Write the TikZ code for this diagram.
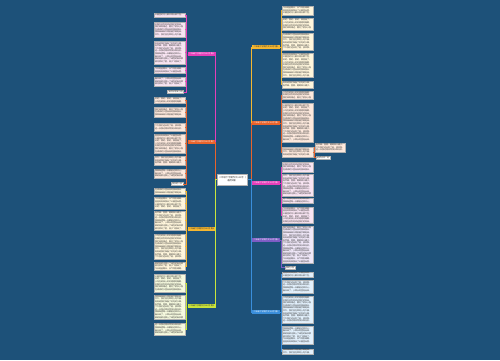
\documentclass[tikz,border=0pt]{standalone}
\usepackage{fontspec}
\newfontfamily\cjk{Noto Sans CJK SC}
\XeTeXlinebreaklocale "zh"

\definecolor{bgblue}{RGB}{29,81,121}
\definecolor{cGold}{HTML}{F5B730}
\definecolor{cOrange}{HTML}{E8632B}
\definecolor{cMagenta}{HTML}{E53FB9}
\definecolor{cPurple}{HTML}{7E5CC4}
\definecolor{cBlue}{HTML}{3A8EDB}
\definecolor{cLime}{HTML}{C9E43C}
\definecolor{fGold}{HTML}{FFF6DC}
\definecolor{fOrange}{HTML}{FDE9DD}
\definecolor{fMagenta}{HTML}{F8E4F2}
\definecolor{fPurple}{HTML}{EFE7F8}
\definecolor{fBlue}{HTML}{E2F0FC}
\definecolor{fLime}{HTML}{F6FADF}
\definecolor{txtD}{HTML}{333333}

% lines of the essay text, 14 characters each
\newcommand\essline[1]{\ifcase#1\or
今天是星期天，天气特别晴朗。\or
爸爸妈妈带我去了公园里玩耍。\or
公园里的花儿都开得五颜六色，\or
红的、黄的、紫的，美丽极了。\or
小鸟在树枝上叽叽喳喳地唱歌，\or
好像在热烈地欢迎我们的到来。\or
我们来到湖边，看见了很多小鱼\or
在清清的水里自由地游来游去，\or
我和妹妹高兴得拍着手跳起来。\or
中午，我们坐在草地上吃午餐，\or
妈妈给我们准备了好吃的水果，\or
有苹果、香蕉、葡萄和大橘子。\or
下午我们还去划了船，放风筝。\or
这一天我过得非常快乐和充实。\or
我真希望每一天都能这样开心。\or
春天来了，小草从地里钻出来，\or
柳树姑娘也换上了绿色的新衣裳\or
桃花笑红了脸，燕子飞回来了。\fi}
\newcount\esscnt
\newcount\essidx
% \essay{first line}{number of lines}
\newcommand\essay[2]{\esscnt=0 \essidx=#1\relax
  \loop\essline{\essidx}\advance\esscnt by 1
    \advance\essidx by 1 \ifnum\essidx>18 \essidx=1 \fi
  \ifnum\esscnt<#2 \par\repeat}

\begin{document}
\begin{tikzpicture}[x=1pt,y=-1pt,
    leaf/.style={draw=black!30,line width=0.25pt,rectangle,inner xsep=1pt,inner ysep=0.6pt,
      text width=29pt,align=left,text=txtD,font=\cjk\fontsize{2}{2.6}\selectfont},
    tip/.style={draw=black!30,line width=0.25pt,fill=white,inner xsep=1pt,inner ysep=0.6pt,
      text=txtD,font=\cjk\fontsize{2}{2.6}\selectfont},
    branch/.style={rectangle,inner sep=1pt,minimum height=4.5pt,minimum width=28pt,
      font=\cjk\fontsize{2}{2.4}\selectfont},
    trunk/.style={line width=0.6pt},
    twig/.style={line width=0.4pt}]
  \fill[bgblue] (0,0) rectangle (500,360);

  % centre
  \node[fill=white,draw=black!30,line width=0.25pt,inner sep=1.5pt,minimum width=29pt,
    minimum height=11pt,align=center,text=txtD,font=\cjk\fontsize{2.3}{3}\selectfont]
    (ctr) at (232.5,179.5) {二年级下学期作文300字（\\通用9篇）};

  % right branches
  \node[branch,fill=cGold,text=txtD] (pian1) at (266,47) {二年级下学期作文300字 篇1};
  \node[branch,fill=cOrange,text=white] (pian2) at (266,123) {二年级下学期作文300字 篇2};
  \node[branch,fill=cMagenta,text=white] (pian3) at (266,183) {二年级下学期作文300字 篇3};
  \node[branch,fill=cPurple,text=white] (pian4) at (266,240) {二年级下学期作文300字 篇4};
  \node[branch,fill=cBlue,text=white] (pian5) at (266,312) {二年级下学期作文300字 篇5};
  % left branches
  \node[branch,fill=cMagenta,text=white] (pian6) at (201.5,54) {二年级下学期作文300字 篇6};
  \node[branch,fill=cOrange,text=white] (pian7) at (201.5,142) {二年级下学期作文300字 篇7};
  \node[branch,fill=cGold,text=txtD] (pian8) at (201.5,229) {二年级下学期作文300字 篇8};
  \node[branch,fill=cLime,text=txtD] (pian9) at (201.5,306) {二年级下学期作文300字 篇9};

  \draw[trunk,cGold] (ctr.east) -- ++(3.5,0) |- (pian1.west);
  \draw[trunk,cOrange] (ctr.east) -- ++(3.5,0) |- (pian2.west);
  \draw[trunk,cMagenta] (ctr.east) -- ++(3.5,0) |- (pian3.west);
  \draw[trunk,cPurple] (ctr.east) -- ++(3.5,0) |- (pian4.west);
  \draw[trunk,cBlue] (ctr.east) -- ++(3.5,0) |- (pian5.west);
  \draw[trunk,cMagenta] (ctr.west) -- ++(-2,0) |- (pian6.east);
  \draw[trunk,cOrange] (ctr.west) -- ++(-2,0) |- (pian7.east);
  \draw[trunk,cGold] (ctr.west) -- ++(-2,0) |- (pian8.east);
  \draw[trunk,cLime] (ctr.west) -- ++(-2,0) |- (pian9.east);

  % leaves of 篇1
  \node[leaf,fill=fGold,minimum height=9pt] (p1a) at (297.5,10.5) {\essay{1}{3}};
  \node[leaf,fill=fGold,minimum height=12pt] (p1b) at (297.5,24) {\essay{4}{4}};
  \node[leaf,fill=fGold,minimum height=17pt] (p1c) at (297.5,41.5) {\essay{8}{6}};
  \node[leaf,fill=fGold,minimum height=24pt] (p1d) at (297.5,65) {\essay{2}{9}};
  \node[leaf,fill=fGold,minimum height=7pt] (p1e) at (297.5,84.5) {\essay{11}{2}};
  % leaves of 篇2
  \node[leaf,fill=fOrange,minimum height=8pt] (p2a) at (297.5,95) {\essay{5}{3}};
  \node[leaf,fill=fOrange,minimum height=39pt] (p2b) at (297.5,122.5) {\essay{3}{14}};
  \node[leaf,fill=fOrange,minimum height=10pt] (p2c) at (297.5,152) {\essay{9}{3}};
  \node[leaf,fill=fOrange,minimum height=9pt,text width=28pt] (p2d) at (330,147.5) {\essay{12}{3}};
  \node[tip] (p2e) at (323,157.5) {老师点评：好};
  % leaves of 篇3
  \node[leaf,fill=fMagenta,minimum height=10pt] (p3a) at (297.5,167) {\essay{6}{3}};
  \node[leaf,fill=fMagenta,minimum height=22pt] (p3b) at (297.5,185) {\essay{10}{8}};
  \node[leaf,fill=fMagenta,minimum height=5pt] (p3c) at (297.5,200.5) {\essay{14}{2}};
  \node[leaf,fill=fMagenta,minimum height=16pt] (p3d) at (297.5,215) {\essay{1}{6}};
  % leaves of 篇4
  \node[leaf,fill=fPurple,minimum height=37pt] (p4a) at (297.5,244.5) {\essay{7}{14}};
  \node[tip] (p4b) at (290,267.5) {我的小狗};
  % leaves of 篇5
  \node[leaf,fill=fBlue,minimum height=5pt] (p5a) at (297.5,274.5) {\essay{2}{2}};
  \node[leaf,fill=fBlue,minimum height=13pt] (p5b) at (297.5,286.5) {\essay{13}{4}};
  \node[leaf,fill=fBlue,minimum height=27pt] (p5c) at (297.5,309.5) {\essay{5}{10}};
  \node[leaf,fill=fBlue,minimum height=18pt] (p5d) at (297.5,335) {\essay{15}{6}};
  \node[leaf,fill=fBlue,minimum height=5pt] (p5e) at (297.5,351.5) {\essay{9}{2}};

  % leaves of 篇6
  \node[leaf,fill=fMagenta,minimum height=4pt] (p6a) at (169.5,15) {\essay{3}{1}};
  \node[leaf,fill=fMagenta,minimum height=15pt] (p6b) at (169.5,29.5) {\essay{6}{5}};
  \node[leaf,fill=fMagenta,minimum height=23pt] (p6c) at (169.5,52.5) {\essay{11}{8}};
  \node[leaf,fill=fMagenta,minimum height=6pt] (p6d) at (169.5,70) {\essay{1}{2}};
  \node[leaf,fill=fMagenta,minimum height=9pt] (p6e) at (169.5,81.5) {\essay{16}{3}};
  \node[tip] (p6f) at (175.5,92) {我的好朋友小明};
  % leaves of 篇7
  \node[leaf,fill=fOrange,minimum height=6pt] (p7a) at (169.5,100) {\essay{4}{2}};
  \node[leaf,fill=fOrange,minimum height=10pt] (p7b) at (169.5,112) {\essay{7}{3}};
  \node[leaf,fill=fOrange,minimum height=8pt] (p7c) at (169.5,127) {\essay{13}{2}};
  \node[leaf,fill=fOrange,minimum height=19pt] (p7d) at (169.5,143.5) {\essay{2}{7}};
  \node[leaf,fill=fOrange,minimum height=9pt] (p7e) at (169.5,160.5) {\essay{10}{3}};
  \node[leaf,fill=fOrange,minimum height=9pt] (p7f) at (169.5,173.5) {\essay{15}{3}};
  \node[tip] (p7g) at (177,184) {快乐的一天};
  % leaves of 篇8
  \node[leaf,fill=fGold,minimum height=5.8pt] (p8a) at (169.5,191.5) {\essay{8}{2}};
  \node[leaf,fill=fGold,minimum height=12pt] (p8b) at (169.5,203) {\essay{1}{4}};
  \node[leaf,fill=fGold,minimum height=19pt] (p8c) at (169.5,220.5) {\essay{12}{7}};
  \node[leaf,fill=fGold,minimum height=25pt] (p8d) at (169.5,246.5) {\essay{5}{9}};
  \node[leaf,fill=fGold,minimum height=8pt] (p8e) at (169.5,266) {\essay{17}{3}};
  % leaves of 篇9
  \node[leaf,fill=fLime,minimum height=18pt] (p9a) at (169.5,283) {\essay{3}{6}};
  \node[leaf,fill=fLime,minimum height=24pt] (p9b) at (169.5,307) {\essay{9}{9}};
  \node[leaf,fill=fLime,minimum height=12pt] (p9c) at (169.5,329) {\essay{14}{4}};

  % connectors to the leaves
  \foreach \l in {p1a,p1b,p1c,p1d,p1e}
    \draw[twig,cGold] (pian1.east) -- ++(1,0) |- (\l.west);
  \foreach \l in {p2a,p2b,p2c}
    \draw[twig,cOrange] (pian2.east) -- ++(1,0) |- (\l.west);
  \foreach \l in {p2d,p2e}
    \draw[twig,cOrange] (p2c.east) -- ++(0.8,0) |- (\l.west);
  \foreach \l in {p3a,p3b,p3c,p3d}
    \draw[twig,cMagenta] (pian3.east) -- ++(1,0) |- (\l.west);
  \foreach \l in {p4a,p4b}
    \draw[twig,cPurple] (pian4.east) -- ++(1,0) |- (\l.west);
  \foreach \l in {p5a,p5b,p5c,p5d,p5e}
    \draw[twig,cBlue] (pian5.east) -- ++(1,0) |- (\l.west);
  \foreach \l in {p6a,p6b,p6c,p6d,p6e,p6f}
    \draw[twig,cMagenta] (pian6.west) -- ++(-1.5,0) |- (\l.east);
  \foreach \l in {p7a,p7b,p7c,p7d,p7e,p7f,p7g}
    \draw[twig,cOrange] (pian7.west) -- ++(-1.5,0) |- (\l.east);
  \foreach \l in {p8a,p8b,p8c,p8d,p8e}
    \draw[twig,cGold] (pian8.west) -- ++(-1.5,0) |- (\l.east);
  \foreach \l in {p9a,p9b,p9c}
    \draw[twig,cLime] (pian9.west) -- ++(-1.5,0) |- (\l.east);
\end{tikzpicture}
\end{document}
